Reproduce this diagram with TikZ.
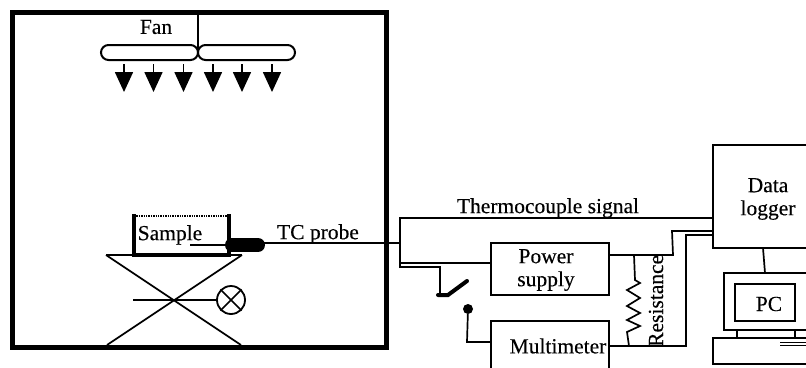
\documentclass[tikz,border=0pt]{standalone}
\usepackage{fontspec}
\setmainfont[FakeBold=0.25]{Liberation Serif}
\usetikzlibrary{arrows.meta}
\tikzset{
  wire/.style={line width=1.7pt},
  wall/.style={line width=4.5pt},
  box/.style={draw, line width=2pt, inner sep=0pt},
  blade/.style={box, rounded corners=7.5pt, minimum width=97pt, minimum height=15pt},
  lbl/.style={font=\fontsize{21.5}{23}\selectfont, align=center, inner sep=0pt},
  airflow/.style={line width=1.7pt, -{Triangle[width=18pt,length=20pt]}}
}
\begin{document}
\begin{tikzpicture}[x=1pt,y=-1pt]
\useasboundingbox (0,0) rectangle (806,367);
\clip (0,0) rectangle (806,367);
% chamber
\draw[line width=5pt] (12,12) rectangle (386,347);
% fan
\coordinate (hub) at (198,12);
\node[blade] (bladeL) at (149.5,52.5) {};
\node[blade] (bladeR) at (246.5,52.5) {};
\draw[wire] (hub) -- (198,51);
\node[lbl] (fan) at (156,27) {Fan};
\foreach \x in {124,153.5,183.5,213,242,272}
  \draw[airflow] (\x,64) -- (\x,92);
% sample and stand
\coordinate (standTL) at (106,255);
\coordinate (standTR) at (242,255);
\coordinate (standBL) at (107,345);
\coordinate (standBR) at (241,345);
\draw[wall] (134,214) -- (134,255) -- (229,255) -- (229,214);
\draw[line width=1.4pt, densely dotted] (134,216) -- (229,216);
\draw[wire] (standTL) -- (standTR);
\draw[wire] (standTL) -- (standBR);
\draw[wire] (standTR) -- (standBL);
\node[lbl] (sample) at (170,235) {Sample};
% lamp
\node[circle, draw, line width=1.8pt, minimum size=28pt, inner sep=0pt] (lamp) at (231,300) {};
\draw[wire] (133,300) -- (lamp.west);
\draw[wire] (lamp.north west) -- (lamp.south east);
\draw[wire] (lamp.north east) -- (lamp.south west);
% probe
\coordinate (tip) at (190,245);
\coordinate (junction) at (400,243);
\draw[wire] (tip) -- (232,245);
\draw[line width=14pt, line cap=round] (232,245) -- (258,245);
\draw[wire] (258,243) -- (junction);
\node[lbl] (tc) at (318,234) {TC probe};
% instruments
\node[box, minimum width=118pt, minimum height=52pt] (power) at (550,269) {};
\node[lbl] (powertext) at (546,270) {Power\\supply};
\node[box, minimum width=118pt, minimum height=60pt] (meter) at (550,351) {};
\node[lbl] (metertext) at (558,346) {Multimeter};
\node[box, minimum width=110pt, minimum height=103pt] (logger) at (768,196.5) {};
\node[lbl] at (768,199) (loggertext) {Data\\logger};
\node[lbl] (signal) at (548,208) {Thermocouple signal};
% wiring
\draw[wire] (400,268) -- (400,218) -- (713,218);
\draw[wire] (400,263) -- (491,263);
\draw[wire] (400,267) -- (440,267) -- (440,295);
\draw[line width=4pt, line cap=round] (438,295) -- (448,295) -- (467,281);
\node[circle, fill, minimum size=10pt, inner sep=0pt] (contact) at (468,309) {};
\draw[wire] (contact) -- (467,342) -- (491,342);
\draw[wire] (609,255) -- (673,255) -- (672,231) -- (713,231);
\draw[wire] (609,346) -- (686,346) -- (686,235) -- (713,235);
% resistance
\draw[wire] (634,255) -- (635,280) -- (640,283) -- (627,290) -- (640,298) -- (627,306) -- (640,313) -- (627,320) -- (640,326) -- (627,332) -- (629,346);
\node[lbl, rotate=90, anchor=west] (res) at (656,347) {Resistance};
% computer
\node[box, minimum width=110pt, minimum height=57pt] (monitor) at (779,301.5) {};
\node[box, minimum width=60pt, minimum height=37pt] (pc) at (765,302.5) {};
\node[lbl] (pctext) at (769,304) {PC};
\node[box, minimum width=110pt, minimum height=26pt] (keyboard) at (768,351) {};
\draw[wire] (763,248) -- (765,273);
\draw[wire] (737,330) -- (737,338);
\draw[wire] (795,330) -- (795,338);
\draw[line width=1pt] (780,342) -- (806,342) (780,345) -- (806,345);
\end{tikzpicture}
\end{document}
